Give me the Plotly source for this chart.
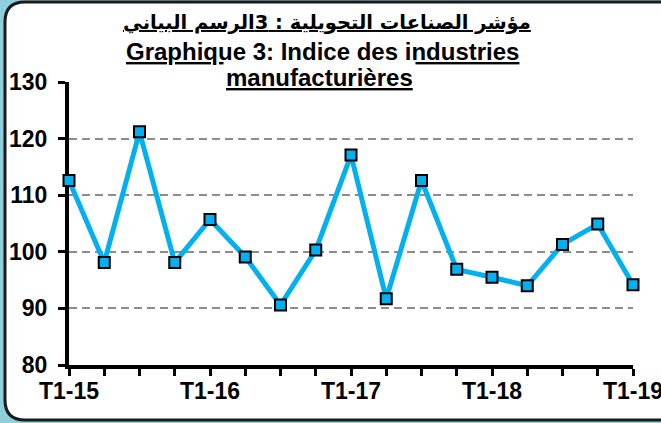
import plotly.graph_objects as go

# ---- data ----
periods = ["T1-15", "T2-15", "T3-15", "T4-15",
           "T1-16", "T2-16", "T3-16", "T4-16",
           "T1-17", "T2-17", "T3-17", "T4-17",
           "T1-18", "T2-18", "T3-18", "T4-18",
           "T1-19"]
values = [112.6, 98.1, 121.2, 98.1,
          105.7, 99.1, 90.6, 100.3,
          117.1, 91.7, 112.6, 96.9,
          95.5, 94.0, 101.3, 104.9,
          94.2]
shown_labels = ["T1-15", "T1-16", "T1-17", "T1-18", "T1-19"]
tick_text = [p if p in shown_labels else "" for p in periods]

title_ar = "مؤشر الصناعات التحويلية : 3الرسم البياني"
title_fr1 = "Graphique 3: Indice des industries"
title_fr2 = "manufacturières"

# ---- geometry helpers (pixel -> paper) ----
W, H = 661, 423
ML, MR, MT, MB = 69, 28, 82, 58
PW, PH = W - ML - MR, H - MT - MB


def fx(p):
    return (p - ML) / PW


def fy(p):
    return (H - MB - p) / PH


FONT = "Liberation Sans, Arial, sans-serif"
BLUE = "#00B0F0"

fig = go.Figure()
fig.add_trace(go.Scatter(
    x=periods, y=values, mode="lines+markers",
    line=dict(color=BLUE, width=5),
    marker=dict(symbol="square", size=11, color=BLUE,
                line=dict(color="black", width=2)),
    cliponaxis=False, showlegend=False,
))

frame = (f"M {fx(700)} {fy(2)} L {fx(25)} {fy(2)} Q {fx(5)} {fy(2)} {fx(5)} {fy(22)} "
         f"L {fx(5)} {fy(400)} Q {fx(5)} {fy(420)} {fx(25)} {fy(420)} L {fx(700)} {fy(420)} Z")

fig.update_layout(
    width=W, height=H,
    margin=dict(l=ML, r=MR, t=MT, b=MB, pad=0, autoexpand=False),
    paper_bgcolor="#8FCEDB",
    plot_bgcolor="rgba(0,0,0,0)",
    font=dict(family=FONT, size=23, color="black"),
    shapes=[dict(type="path", path=frame, xref="paper", yref="paper",
                 fillcolor="white", line=dict(color="#1a1a1a", width=3),
                 layer="below")],
    xaxis=dict(
        type="category", range=[0, 16], automargin=False,
        tickmode="array", tickvals=periods, ticktext=tick_text,
        showgrid=False, zeroline=False,
        showline=True, linecolor="black", linewidth=4,
        ticks="outside", ticklen=7, tickwidth=3, tickcolor="black",
        tickfont=dict(family=FONT, size=23, color="black", weight="bold"),
        ticklabelstandoff=-5,
        layer="below traces",
    ),
    yaxis=dict(
        range=[80, 130], dtick=10, tick0=80, automargin=False,
        showgrid=True, gridcolor="#8c8c8c", gridwidth=2, griddash="8px,5px",
        zeroline=False,
        showline=True, linecolor="black", linewidth=4,
        ticks="outside", ticklen=7, tickwidth=3, tickcolor="black",
        tickfont=dict(family=FONT, size=23, color="black", weight="bold"),
        ticklabelstandoff=6,
        layer="below traces",
    ),
    annotations=[
        dict(text=f"<b><u>{title_ar}</u></b>", x=fx(327), y=fy(22),
             xref="paper", yref="paper", xanchor="center", yanchor="middle",
             showarrow=False, font=dict(family="DejaVu Sans, sans-serif", size=19.5)),
        dict(text=f"<b><u>{title_fr1}</u></b>", x=fx(322), y=fy(51),
             xref="paper", yref="paper", xanchor="center", yanchor="middle",
             showarrow=False, font=dict(family=FONT, size=24)),
        dict(text=f"<b><u>{title_fr2}</u></b>", x=fx(319), y=fy(78),
             xref="paper", yref="paper", xanchor="center", yanchor="middle",
             showarrow=False, bgcolor="white", borderpad=2,
             font=dict(family=FONT, size=24)),
    ],
)

fig.write_html(
    "out.html",
    config={"displayModeBar": False},
    post_script="document.body.style.margin='0px';document.body.style.padding='0px';",
)
